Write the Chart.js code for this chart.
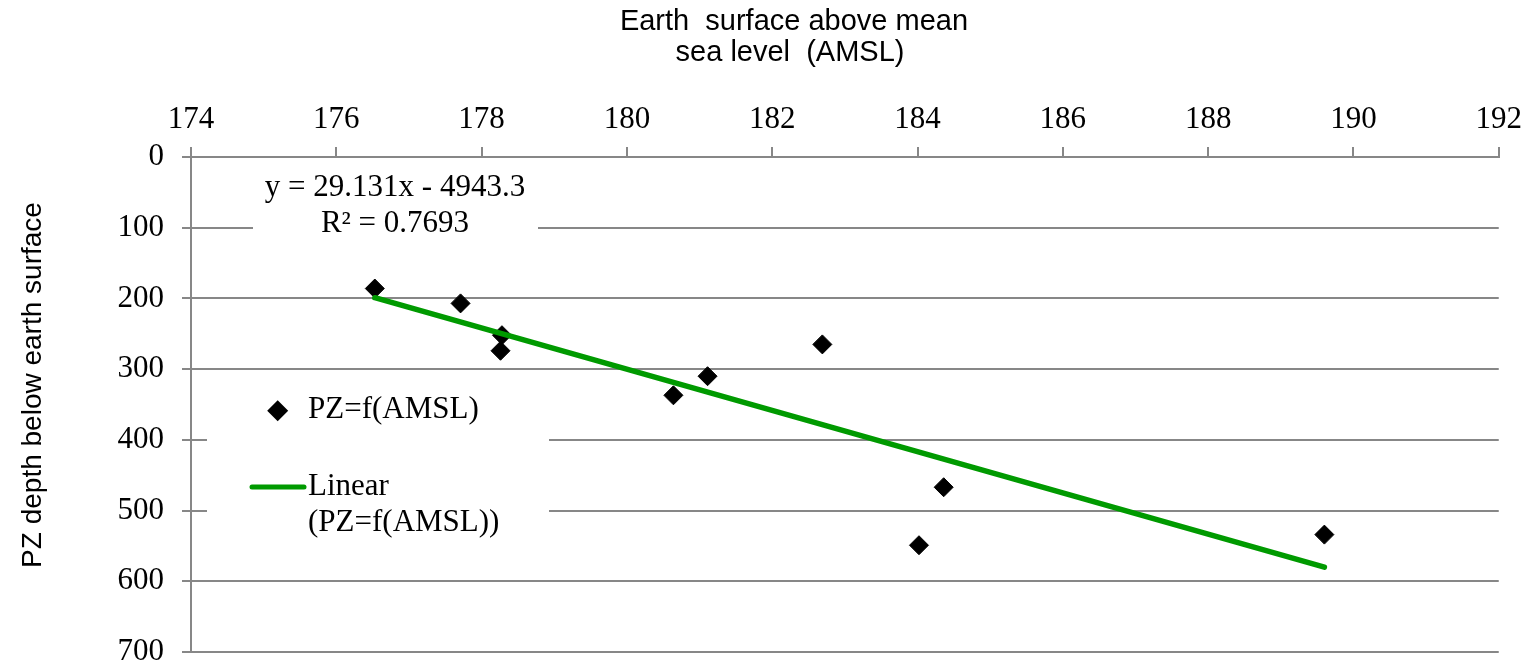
<!DOCTYPE html>
<html>
<head>
<meta charset="utf-8">
<script src="https://cdn.jsdelivr.net/npm/chart.js@4"></script>
<style>
  html, body { margin: 0; padding: 0; background: #fff; overflow: hidden; }
  canvas { display: block; }
</style>
</head>
<body>
<canvas id="pzChart" width="1531" height="665"></canvas>
<script>
// values
const amsl = [176.53, 177.71, 178.28, 178.26, 180.64, 181.11, 182.69, 184.36, 184.02, 189.6];
const pzDepth = [186, 207, 252, 274, 337, 310, 265, 467, 549, 534];

// trend line ends (as drawn in the picture)
const trendX = [176.53, 189.6];
const trendY = [199, 580];

const xTicks = [174, 176, 178, 180, 182, 184, 186, 188, 190, 192];
const yTicks = [0, 100, 200, 300, 400, 500, 600, 700];

const serifFont = "'Liberation Serif', 'Times New Roman', serif";
const sansFont = "'Liberation Sans', Arial, sans-serif";
const gridGrey = "#878787";
const green = "#009a00";

const pointsData = amsl.map((x, i) => ({ x: x, y: pzDepth[i] }));
const trendData = trendX.map((x, i) => ({ x: x, y: trendY[i] }));

// titles, equation box and legend drawn inside the plot like the original
const overlay = {
    id: "overlay",
    afterDraw(chart) {
        const ctx = chart.ctx;
        ctx.save();

        // axis titles
        ctx.fillStyle = "#000";
        ctx.font = "29px " + sansFont;
        ctx.textAlign = "center";
        ctx.textBaseline = "middle";
        ctx.fillText("Earth  surface above mean", 794, 22);
        ctx.fillText("sea level  (AMSL)", 790, 53);

        ctx.font = "28px " + sansFont;
        ctx.save();
        ctx.translate(33, 385);
        ctx.rotate(-Math.PI / 2);
        ctx.fillText("PZ depth below earth surface", 0, 0);
        ctx.restore();

        // trendline equation
        ctx.fillStyle = "#fff";
        ctx.fillRect(253, 172, 285, 70);
        ctx.fillStyle = "#000";
        ctx.font = "31px " + serifFont;
        ctx.fillText("y = 29.131x - 4943.3", 395, 188);
        ctx.fillText("R\u00b2 = 0.7693", 395, 224);

        // legend
        ctx.fillStyle = "#fff";
        ctx.fillRect(207, 382, 342, 162);
        ctx.fillStyle = "#000";
        const mx = 277.7, my = 410.7, mr = 10.5;
        ctx.beginPath();
        ctx.moveTo(mx - mr, my);
        ctx.lineTo(mx, my - mr);
        ctx.lineTo(mx + mr, my);
        ctx.lineTo(mx, my + mr);
        ctx.closePath();
        ctx.fill();

        ctx.strokeStyle = green;
        ctx.lineWidth = 5;
        ctx.lineCap = "round";
        ctx.beginPath();
        ctx.moveTo(252, 487);
        ctx.lineTo(304, 487);
        ctx.stroke();

        ctx.textAlign = "left";
        ctx.fillText("PZ=f(AMSL)", 308, 410);
        ctx.fillText("Linear", 308, 487);
        ctx.fillText("(PZ=f(AMSL))", 308, 523);

        ctx.restore();
    }
};

new Chart(document.getElementById("pzChart"), {
    type: "scatter",
    data: {
        datasets: [
            {
                label: "Linear (PZ=f(AMSL))",
                data: trendData,
                showLine: true,
                borderColor: green,
                borderWidth: 5.5,
                borderCapStyle: "round",
                pointRadius: 0,
                order: 0
            },
            {
                label: "PZ=f(AMSL)",
                data: pointsData,
                pointStyle: "rectRot",
                pointRadius: 9.5,
                backgroundColor: "#000",
                borderColor: "#000",
                borderWidth: 1,
                order: 1
            }
        ]
    },
    options: {
        responsive: false,
        animation: false,
        devicePixelRatio: 1,
        layout: { padding: { left: 0, right: 31, top: 0, bottom: 13 } },
        plugins: {
            legend: { display: false },
            tooltip: { enabled: false }
        },
        scales: {
            x: {
                type: "linear",
                position: "top",
                min: xTicks[0],
                max: xTicks[xTicks.length - 1],
                afterBuildTicks: (s) => { s.ticks = xTicks.map(v => ({ value: v })); },
                afterFit: (s) => { s.height = 157; },
                ticks: {
                    color: "#000",
                    font: { family: serifFont, size: 31 },
                    padding: 9,
                    maxRotation: 0
                },
                grid: {
                    drawOnChartArea: false,
                    drawTicks: true,
                    tickLength: 10,
                    color: gridGrey,
                    lineWidth: 2
                },
                border: { display: true, color: gridGrey, width: 2 }
            },
            y: {
                type: "linear",
                reverse: true,
                min: yTicks[0],
                max: yTicks[yTicks.length - 1],
                afterBuildTicks: (s) => { s.ticks = yTicks.map(v => ({ value: v })); },
                afterFit: (s) => {
                    s.width = 191;
                    s.paddingTop = 0;
                    s.paddingBottom = 0;
                },
                ticks: {
                    color: "#000",
                    font: { family: serifFont, size: 31 },
                    padding: 18
                },
                grid: {
                    drawTicks: true,
                    tickLength: 9,
                    color: gridGrey,
                    lineWidth: 2
                },
                border: { display: true, color: gridGrey, width: 2 }
            }
        }
    },
    plugins: [overlay]
});
</script>
</body>
</html>
